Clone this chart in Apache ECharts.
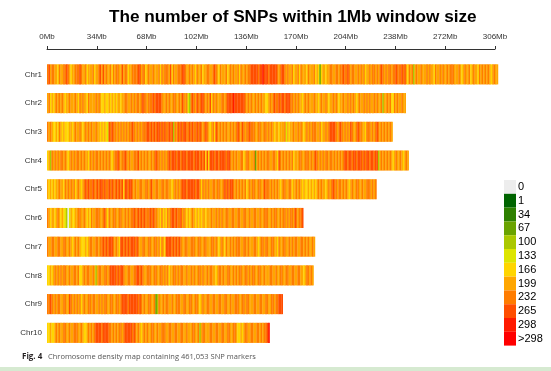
<!DOCTYPE html>
<html>
<head>
<meta charset="utf-8">
<script src="https://cdn.jsdelivr.net/npm/echarts@6/dist/echarts.min.js"></script>
<style>html,body{margin:0;padding:0;background:#fff;}#c{width:551px;height:371px;}</style>
</head>
<body>
<div id="c"></div>
<script>
// Chromosome names
var chromosomes = ['Chr1','Chr2','Chr3','Chr4','Chr5','Chr6','Chr7','Chr8','Chr9','Chr10'];
// Axis tick labels (Mb)
var tickValues = [0,34,68,102,136,170,204,238,272,306];
// Legend classes (lower bounds) and their colours
var legendLabels = ['0','1','34','67','100','133','166','199','232','265','298','>298'];
var legendColors = ['#EDEDED','#006400','#2E8000','#6AA300','#ABC800','#DDE500','#FFD500','#FFA600','#FF7C00','#FF4E00','#FF1A00','#FF0000'];
// Representative SNP count per density class code (code char -> count)
var classValue = {'0':0,'1':15,'2':50,'3':80,'4':115,'5':150,'6':182,'7':215,'8':248,'9':280,'a':298,'b':320};
// SNP density class per 1Mb window (one char per window)
var chr1 = ['8978877687','7889876778','8898778677','7867789797','8778687887','7978867788','8899788678','7787778687','8887968778','8899877878','7687786778','8778987687','7786787877','8687787889','9999899a99','9899999878','9987877867','7868777687','7786763677','6778877887','8898898788','7787878677','8788787898','7878878898','8898976878','4787787778','7877687787','8778788877','7876787786','7877687878','78767877'].join('');
var chr2 = ['7867678787','8767787778','7687877687','7778787667','6676767677','6778877878','7887898878','8898999987','7878778877','8798785489','8798899878','7968787778','8789999a99','9999987878','7787878776','6787898898','9989998878','7877678787','7787767877','8767787876','7787787878','7678778787','8778787784','7787866878','77877'].join('');
var chr3 = ['8787667687','6766677678','7787678787','8778776767','6598988787','8787878898','7878788899','8989899898','9889894879','8989988989','8898987898','7678698787','8787787878','9879878898','8877887788','7878767767','7785767787','7878767878','7888778677','8789999878','9878787987','7898877688','8787898787','878787'].join('');
var chr4 = ['6748787878','8787678787','8878787768','7878878787','8787678898','7889878778','8897878787','7878988787','8789899989','9899989999','8999898969','6999899899','9989987878','7788678877','7837878787','8877887698','7878787867','7788778887','8789878787','8878878787','8789989989','9899989899','8998994787','8787876787','7876787'].join('');
var chr5 = ['7676767787','7687878786','7876789898','8988989989','8898988989','8969989987','8778877887','8977887788','7887767878','7899989999','9899868787','8778878877','8989899878','7878786787','8877887798','8878787876','7887788677','8787676676','7676787877','6787898878','8787876787','7887787788','87878'].join('');
var chr6 = ['8767767876','7654057667','7887787676','8778887789','7687788778','8778787889','8898989888','9898877686','7687899898','8978767678','7676767767','7787787878','7788778877','8877887787','7887787788','8778788778','7887878879','87889'].join('');
var chr7 = ['8778877887','7887787678','7876667678','8778878898','9899987876','9989898999','8987788778','8778878687','6999989898','9877887788','8778877887','7788787678','7687787878','8877887877','7887678878','8778877687','7887787878','8778878787','787'].join('');
var chr8 = ['6676787878','7887787788','7866787887','7874788778','8789999898','9987788778','8998987788','8778877887','8786778878','7887787787','8778878778','7887767887','8778877878','7887788787','8877887787','7788778778','8778877887','7887767887','87'].join('');
var chr9 = ['8898787887','7887798787','8786787788','7887787878','8778877887','8999989999','9989878778','8778348778','7887787788','8778877887','7887678778','8778877887','7887787788','8778878877','7887788778','8778878899','9'].join('');
var chr10 = ['6676678787','7887787788','8778766787','8789999899','9988787878','8789999989','8787678787','7887787788','8778877887','7887787778','8778478877','7887788778','8778877887','6676788778','8778878788','9a'].join('');
var chrCodes = [chr1,chr2,chr3,chr4,chr5,chr6,chr7,chr8,chr9,chr10];

var data = [];
chrCodes.forEach(function(codes, c){
  for (var i = 0; i < codes.length; i++) {
    data.push([i, c, classValue[codes.charAt(i)]]);
  }
});

var pieces = [
  {value:0}, {min:1,max:33}, {min:34,max:66}, {min:67,max:99}, {min:100,max:132},
  {min:133,max:165}, {min:166,max:198}, {min:199,max:231}, {min:232,max:264},
  {min:265,max:297}, {value:298}, {gt:298}
].map(function(p, k){ p.label = legendLabels[k]; p.color = legendColors[k]; return p; });

var chart = echarts.init(document.getElementById('c'), null, {renderer:'canvas'});
chart.setOption({
  animation: false,
  backgroundColor: '#fff',
  title: {
    text: 'The number of SNPs within 1Mb window size',
    left: 109, top: 9, padding: 0,
    textStyle: {fontFamily:'Liberation Sans', fontSize:17.2, fontWeight:'bold', color:'#000'}
  },
  grid: {left: 47, right: 56, top: 60, height: 287.2},
  xAxis: {
    type: 'value', position: 'top', offset: 11,
    min: 0, max: 306, interval: 34,
    axisLine: {show: true, lineStyle: {color:'#333', width:1}},
    axisTick: {show: true, length: 3, lineStyle: {color:'#333'}},
    axisLabel: {fontSize: 8, color:'#333', fontFamily:'Liberation Sans', margin: 8,
      formatter: function(v){ return tickValues.indexOf(v) >= 0 ? v + 'Mb' : ''; }},
    splitLine: {show: false}
  },
  yAxis: {
    type: 'category', inverse: true, data: chromosomes,
    axisLine: {show:false}, axisTick: {show:false},
    axisLabel: {fontSize: 8, color:'#333', fontFamily:'Liberation Sans', margin: 5}
  },
  visualMap: {
    type: 'piecewise', dimension: 2, seriesIndex: 0,
    pieces: pieces,
    orient: 'vertical', inverse: true, align: 'left',
    left: 504, top: 180, itemWidth: 12, itemHeight: 13.8, itemGap: 0, textGap: 2,
    itemSymbol: 'rect', padding: 0,
    textStyle: {fontSize: 11, color:'#000', fontFamily:'Liberation Sans'}
  },
  series: [{
    type: 'custom',
    encode: {x: 0, y: 1},
    data: data,
    renderItem: function(params, api){
      var s = api.coord([api.value(0), api.value(1)]);
      var e = api.coord([api.value(0) + 1, api.value(1)]);
      var h = api.size([0, 1])[1] * 0.70;
      return {type:'rect', shape:{x:s[0], y:s[1] - h/2, width:e[0] - s[0] + 0.3, height:h},
        style:{fill: api.visual('color')}};
    }
  }],
  graphic: [
    {type:'text', left: 22, top: 353, style:{text:'Fig. 4', font:'bold 8px "Open Sans"', fill:'#231f20'}},
    {type:'text', left: 48, top: 353, style:{text:'Chromosome density map containing 461,053 SNP markers', font:'7.5px "Open Sans"', fill:'#555'}},
    {type:'rect', left: 0, top: 367, shape:{width:551, height:4}, style:{fill:'#d6ead1'}}
  ]
});
</script>
</body>
</html>
